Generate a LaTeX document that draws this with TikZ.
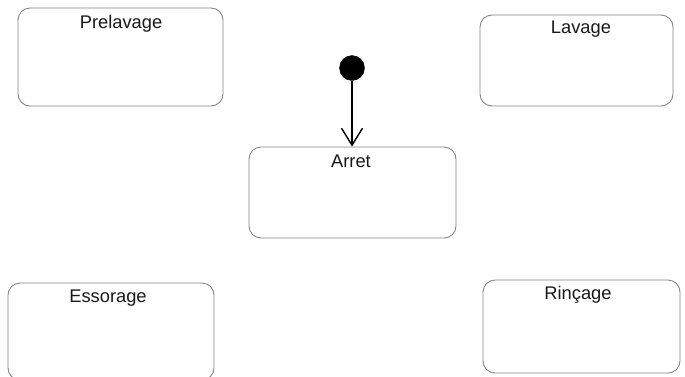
\documentclass[tikz,border=0pt]{standalone}
\usepackage{fontspec}
\setmainfont{Liberation Sans}
\usetikzlibrary{arrows.meta}
\definecolor{boxgray}{HTML}{858585}
\tikzset{
  statebox/.style={draw=boxgray, line width=0.9pt, rounded corners=12pt, fill=white, inner sep=0pt},
  statename/.style={font=\fontsize{18.3}{21}\selectfont, text=black!90, anchor=base, inner sep=0pt},
  initdot/.style={circle, fill=black, draw=black, minimum size=25pt, inner sep=0pt},
  trans/.style={line width=1.4pt, -{Straight Barb[length=17pt, width=21pt, line width=1.4pt]}}
}
\begin{document}
\begin{tikzpicture}[x=1pt, y=-1pt]
  \fill[white] (0,0) rectangle (685,376);
  \useasboundingbox (0,0) rectangle (685,376);
  \node[statebox, minimum width=205pt, minimum height=98pt] (pre) at (120.5,57) {};
  \node[statebox, minimum width=193pt, minimum height=91pt] (lav) at (576.5,60.5) {};
  \node[statebox, minimum width=207pt, minimum height=91pt] (arret) at (352.5,192.5) {};
  \node[statebox, minimum width=206pt, minimum height=97pt] (ess) at (111,331.5) {};
  \node[statebox, minimum width=197pt, minimum height=93pt] (rin) at (581.5,326.5) {};
  \node[statename] (preT) at (121,28) {Prelavage};
  \node[statename] (lavT) at (581,33) {Lavage};
  \node[statename] (arretT) at (351,167) {Arret};
  \node[statename] (essT) at (108,302) {Essorage};
  \node[statename] (rinT) at (578,299) {Rinçage};
  \node[initdot] (init) at (352,68) {};
  \draw[trans] (init) -- (init |- arret.north);
\end{tikzpicture}
\end{document}
